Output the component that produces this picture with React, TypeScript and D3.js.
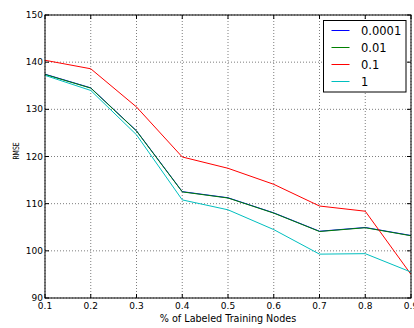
import React from "react";
import * as d3 from "d3";

const fractions = [0.1, 0.2, 0.3, 0.4, 0.5, 0.6, 0.7, 0.8, 0.9];
const seriesNames = ["0.0001", "0.01", "0.1", "1"];
const seriesColors = ["#0000ff", "#008000", "#ff0000", "#00bfbf"];
const rmse00001 = [137.45, 134.55, 125.45, 112.55, 111.25, 108.05, 104.15, 104.95, 103.25];
const rmse001 = [137.4, 134.5, 125.4, 112.5, 111.2, 108.0, 104.1, 104.9, 103.2];
const rmse01 = [140.4, 138.6, 130.5, 119.9, 117.5, 114.1, 109.5, 108.4, 95.0];
const rmse1 = [137.2, 134.0, 124.6, 110.8, 108.7, 104.5, 99.3, 99.4, 95.5];
const xTicks = [0.1, 0.2, 0.3, 0.4, 0.5, 0.6, 0.7, 0.8, 0.9];
const yTicks = [90, 100, 110, 120, 130, 140, 150];

const W = 414;
const H = 328;
const left = 45;
const right = 411;
const top = 15;
const bottom = 298;
const font = "DejaVu Sans, sans-serif";

export default function App() {
  const x = d3.scaleLinear().domain([0.1, 0.9]).range([left, right]);
  const y = d3.scaleLinear().domain([90, 150]).range([bottom, top]);
  const series = [rmse00001, rmse001, rmse01, rmse1];
  const line = d3
    .line<number>()
    .x((_, i) => x(fractions[i]))
    .y((d) => y(d));

  return (
    <svg
      width={W}
      height={H}
      style={{ position: "absolute", left: 0, top: 0, background: "#fff" }}
      fontFamily={font}
    >
      <rect x={0} y={0} width={W} height={H} fill="#fff" />
      <defs>
        <clipPath id="plotclip">
          <rect x={left} y={top} width={right - left} height={bottom - top} />
        </clipPath>
      </defs>
      {/* grid */}
      <g stroke="#000" strokeWidth={0.6} strokeDasharray="1,2" opacity={0.85}>
        {xTicks.map((t) => (
          <line key={"gx" + t} x1={x(t)} x2={x(t)} y1={top} y2={bottom} />
        ))}
        {yTicks.map((t) => (
          <line key={"gy" + t} x1={left} x2={right} y1={y(t)} y2={y(t)} />
        ))}
      </g>
      {/* series */}
      <g clipPath="url(#plotclip)">
        {series.map((s, i) => (
          <path key={seriesNames[i]} d={line(s) || ""} fill="none" stroke={seriesColors[i]} strokeWidth={1} />
        ))}
      </g>
      {/* ticks */}
      <g stroke="#000" strokeWidth={1}>
        {xTicks.map((t) => (
          <g key={"tx" + t}>
            <line x1={x(t)} x2={x(t)} y1={bottom} y2={bottom - 4} />
            <line x1={x(t)} x2={x(t)} y1={top} y2={top + 4} />
          </g>
        ))}
        {yTicks.map((t) => (
          <g key={"ty" + t}>
            <line x1={left} x2={left + 4} y1={y(t)} y2={y(t)} />
            <line x1={right} x2={right - 4} y1={y(t)} y2={y(t)} />
          </g>
        ))}
      </g>
      <rect x={left} y={top} width={right - left} height={bottom - top} fill="none" stroke="#000" strokeWidth={1} />
      {/* tick labels */}
      <g fontSize={9} fill="#000">
        {xTicks.map((t) => (
          <text key={"lx" + t} x={x(t)} y={bottom + 11} textAnchor="middle">
            {t.toFixed(1)}
          </text>
        ))}
        {yTicks.map((t) => (
          <text key={"ly" + t} x={left - 2} y={y(t) + 3} textAnchor="end">
            {t}
          </text>
        ))}
      </g>
      <text x={(left + right) / 2} y={321.5} textAnchor="middle" fontSize={9.6}>
        % of Labeled Training Nodes
      </text>
      <text
        transform={`translate(19,151) rotate(-90) scale(0.72,1)`}
        textAnchor="middle"
        fontSize={8.5}
      >
        RMSE
      </text>
      {/* legend */}
      <g>
        <rect x={323.5} y={20.5} width={82.5} height={71.5} fill="#fff" stroke="#000" strokeWidth={1} />
        {seriesNames.map((n, i) => {
          const ly = 30.5 + i * 17;
          return (
            <g key={"lg" + n}>
              <line x1={331.5} x2={349.5} y1={ly} y2={ly} stroke={seriesColors[i]} strokeWidth={1} />
              <text x={361} y={ly + 4.2} fontSize={11.5} fill="#000">
                {n}
              </text>
            </g>
          );
        })}
      </g>
    </svg>
  );
}
